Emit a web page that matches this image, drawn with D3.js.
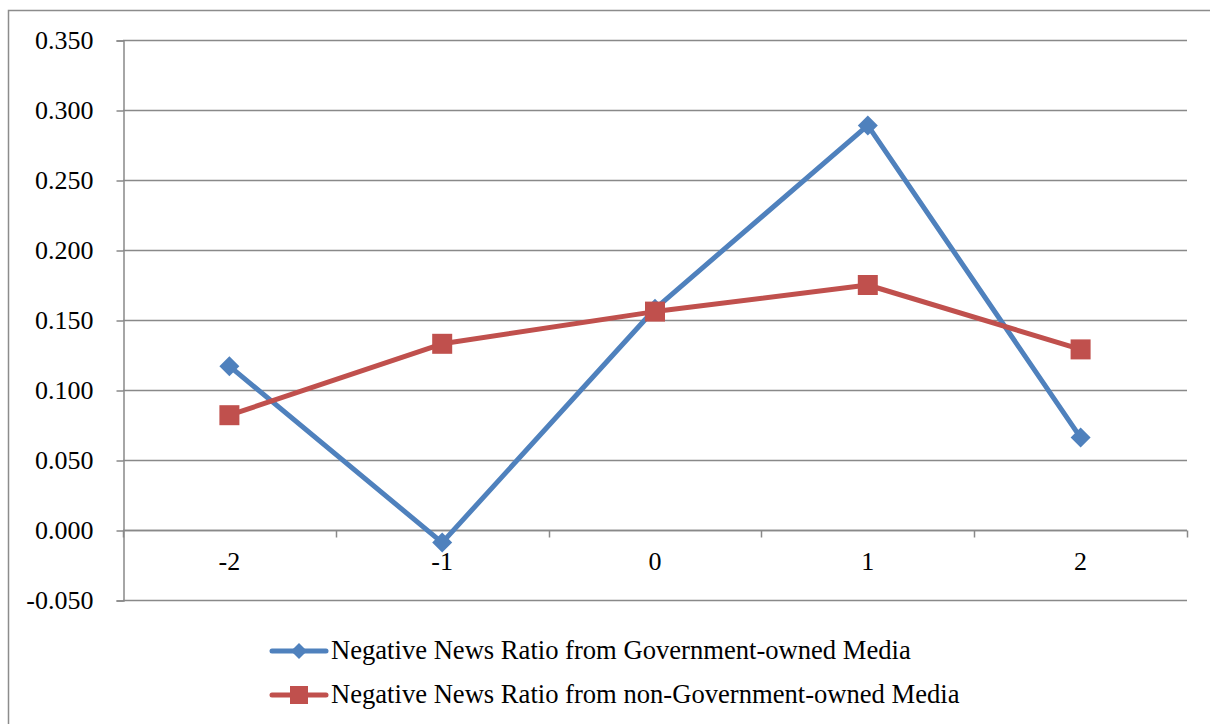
<!DOCTYPE html>
<html>
<head>
<meta charset="utf-8">
<script src="https://cdn.jsdelivr.net/npm/d3@7"></script>
<style>
  html, body { margin: 0; padding: 0; background: #fff; }
  svg { display: block; font-family: "Liberation Serif", "Times New Roman", serif; }
  svg text { font-family: "Liberation Serif", "Times New Roman", serif !important; fill: #000; }
</style>
</head>
<body>
<svg id="chart" width="1210" height="724"></svg>
<script>
// Event-window categories
const categories = ["-2", "-1", "0", "1", "2"];
// Negative news ratio, government-owned media
const govValues = [0.117, -0.009, 0.158, 0.289, 0.066];
// Negative news ratio, non-government-owned media
const nonGovValues = [0.082, 0.133, 0.156, 0.175, 0.129];
// Y tick values
const yTicks = [-0.05, 0, 0.05, 0.10, 0.15, 0.20, 0.25, 0.30, 0.35];
const seriesNames = [
  "Negative News Ratio from Government-owned Media",
  "Negative News Ratio from non-Government-owned Media"
];

const svg = d3.select("#chart");
const plotLeft = 123, plotRight = 1187, plotTop = 40, plotBottom = 600;
const gridColor = "#898989";
const blue = "#4F81BD", red = "#C0504D";
const fontSize = "26px";
const legendFontSize = "26.6px";

// chart frame
svg.append("path")
  .attr("d", "M8.5,724 V10.5 H1210")
  .attr("fill", "none").attr("stroke", "#8c8c8c").attr("stroke-width", 1.5);

const x = d3.scaleBand().domain(categories).range([plotLeft, plotRight]).padding(0);
const y = d3.scaleLinear().domain([-0.05, 0.35]).range([plotBottom, plotTop]);

// horizontal gridlines
svg.append("g").selectAll("line").data(yTicks).join("line")
  .attr("x1", plotLeft).attr("x2", plotRight)
  .attr("y1", d => Math.round(y(d)) + 0.5).attr("y2", d => Math.round(y(d)) + 0.5)
  .attr("stroke", gridColor).attr("stroke-width", 1.5);

// y axis with ticks and labels (plain hyphen for negatives)
const fmt = d3.format(".3f");
const yAxis = d3.axisLeft(y).tickValues(yTicks).tickSize(7).tickPadding(23)
  .tickFormat(d => fmt(d).replace("\u2212", "-"));
const gy = svg.append("g").attr("transform", `translate(${plotLeft + 0.5},0.5)`).call(yAxis);
gy.attr("font-family", null).attr("font-size", null);
gy.select(".domain").attr("stroke", gridColor).attr("stroke-width", 1.5);
gy.selectAll(".tick line").attr("stroke", gridColor).attr("stroke-width", 1.5);
gy.selectAll(".tick text").style("font-size", fontSize).attr("fill", "#000");

// x axis along zero with boundary ticks
const y0 = Math.round(y(0)) + 0.5;
svg.append("line").attr("x1", plotLeft).attr("x2", plotRight).attr("y1", y0).attr("y2", y0)
  .attr("stroke", gridColor).attr("stroke-width", 1.5);
const bounds = categories.map(c => x(c)).concat([x(categories[categories.length - 1]) + x.bandwidth()]);
svg.append("g").selectAll("line").data(bounds).join("line")
  .attr("x1", d => Math.round(d) + 0.5).attr("x2", d => Math.round(d) + 0.5)
  .attr("y1", y0).attr("y2", y0 + 7)
  .attr("stroke", gridColor).attr("stroke-width", 1.5);
svg.append("g").selectAll("text").data(categories).join("text")
  .attr("x", d => x(d) + x.bandwidth() / 2)
  .attr("y", y0 + 39)
  .attr("text-anchor", "middle")
  .style("font-size", fontSize)
  .text(d => d);

const cx = d => x(d) + x.bandwidth() / 2;
const line = d3.line().x((d, i) => cx(categories[i])).y(d => y(d));

function drawSeries(values, color, kind) {
  const g = svg.append("g");
  g.append("path").datum(values).attr("d", line)
    .attr("fill", "none").attr("stroke", color).attr("stroke-width", 5)
    .attr("stroke-linejoin", "round").attr("stroke-linecap", "round");
  if (kind === "diamond") {
    g.selectAll("path.m").data(values).join("path").attr("class", "m")
      .attr("d", d3.symbol().type(d3.symbolSquare).size(200))
      .attr("transform", (d, i) => `translate(${cx(categories[i])},${y(d)}) rotate(45)`)
      .attr("fill", color);
  } else {
    g.selectAll("rect").data(values).join("rect")
      .attr("x", (d, i) => cx(categories[i]) - 10).attr("y", d => y(d) - 10)
      .attr("width", 20).attr("height", 20).attr("fill", color);
  }
}
drawSeries(govValues, blue, "diamond");
drawSeries(nonGovValues, red, "square");

// legend
const legend = svg.append("g");
const legendRows = [
  { name: seriesNames[0], color: blue, kind: "diamond", yy: 651 },
  { name: seriesNames[1], color: red, kind: "square", yy: 695 }
];
legendRows.forEach(r => {
  legend.append("line").attr("x1", 272).attr("x2", 326).attr("y1", r.yy).attr("y2", r.yy)
    .attr("stroke", r.color).attr("stroke-width", 5).attr("stroke-linecap", "round");
  if (r.kind === "diamond") {
    legend.append("path").attr("d", d3.symbol().type(d3.symbolSquare).size(130))
      .attr("transform", `translate(299,${r.yy}) rotate(45)`).attr("fill", r.color);
  } else {
    legend.append("rect").attr("x", 290).attr("y", r.yy - 9).attr("width", 18).attr("height", 18)
      .attr("fill", r.color);
  }
  legend.append("text").attr("x", 331).attr("y", r.yy + 8)
    .style("font-size", legendFontSize).text(r.name);
});
</script>
</body>
</html>
